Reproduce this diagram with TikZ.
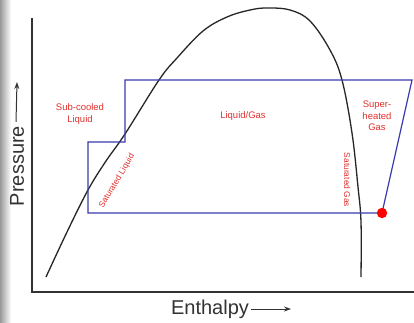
\documentclass[tikz,border=0pt]{standalone}
\usepackage{fontspec}
\setmainfont{Liberation Sans}
\usetikzlibrary{arrows.meta}
\definecolor{axisgray}{HTML}{333333}
\definecolor{cycleblue}{HTML}{3A3AB0}
\definecolor{labred}{HTML}{E0302E}
\tikzset{
  axisline/.style={draw=axisgray, line width=1.5pt},
  cycleline/.style={draw=cycleblue, line width=1.2pt, line join=miter},
  domecurve/.style={draw=black!85, line width=1.3pt},
  redlabel/.style={text=labred, font=\fontsize{9.5}{11.5}\selectfont, align=center, inner sep=0pt},
  smalllabel/.style={redlabel, font=\fontsize{8.4}{10}\selectfont},
  axislabel/.style={text=axisgray, font=\fontsize{20}{24}\selectfont, inner sep=0pt},
  axisarrow/.style={draw=axisgray, line width=1pt, -{Stealth[length=7pt,width=5pt]}}
}
\begin{document}
\begin{tikzpicture}[x=1pt,y=-1pt]
\useasboundingbox (0,0) rectangle (414,322);
\fill[white] (0,0) rectangle (414,322);
\shade[left color=black!40, right color=white] (0,0) rectangle (11,322);
% axes
\coordinate (top) at (32,18);
\coordinate (origin) at (32,292);
\coordinate (xend) at (414,292);
\draw[axisline] (top) -- (origin) -- (xend);
% dome curve
\draw[domecurve] plot[smooth, tension=0.6] coordinates {
 (46,277) (67,232) (88,190) (106,161) (125,134) (159,80) (177,58) (203,31) (227,17) (250,10) (267,8)
 (290,10) (310,21) (330,50) (342,80) (352,133) (358,187) (361,222) (361,277)};
% cycle
\coordinate (a) at (125,80);
\coordinate (b) at (412,80);
\coordinate (c) at (382,213);
\coordinate (d) at (88,213);
\coordinate (e) at (88,142);
\coordinate (f) at (125,142);
\draw[cycleline] (a) -- (b) -- (c) -- (d) -- (e) -- (f) -- cycle;
\fill[red] (c) circle (5.2);
% labels
\node[redlabel] (sub) at (80,114) {Sub-cooled\\Liquid};
\node[redlabel] (lg) at (243,116) {Liquid/Gas};
\node[redlabel] (sup) at (377,116) {Super-\\heated\\Gas};
\node[smalllabel, rotate=59] (satl) at (117,181) {Saturated Liquid};
\node[smalllabel, rotate=-90] (satg) at (347,180) {Saturated Gas};
% axis labels
\node[axislabel, rotate=90] (pres) at (17,166) {Pressure};
\coordinate (parr) at (17,82);
\draw[axisarrow] ([xshift=-1pt]pres.east) ++(0,-4) -- (parr);
\node[axislabel] (enth) at (210,309) {Enthalpy};
\coordinate (earr) at (291,309);
\draw[axisarrow] ([xshift=2pt]enth.east) -- (earr);
\end{tikzpicture}
\end{document}
